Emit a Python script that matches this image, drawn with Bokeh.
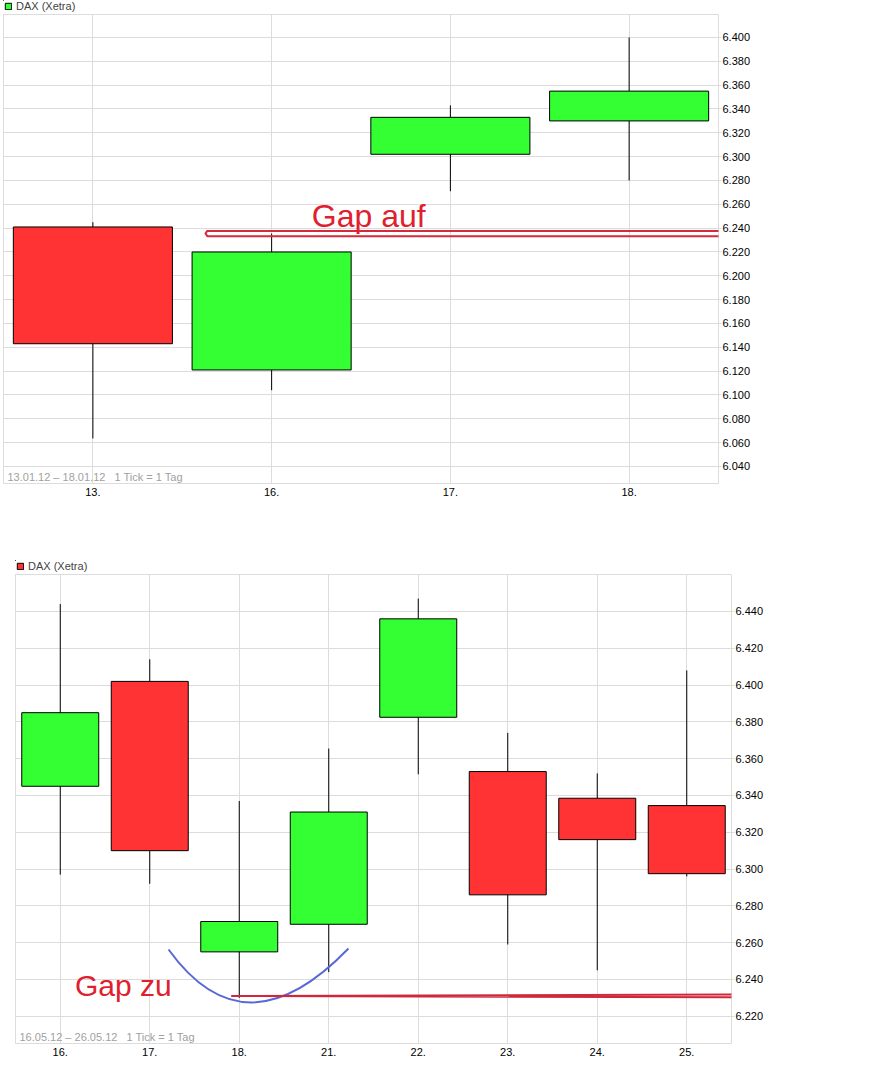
from bokeh.plotting import figure
from bokeh.models import (ColumnDataSource, FixedTicker, CustomJSTickFormatter, Legend,
                          LegendItem, Label, PolyAnnotation, Range1d)
from bokeh.embed import file_html
from bokeh.resources import INLINE

# ---------------- data ----------------
top_days = ["13.", "16.", "17.", "18."]
top_open = [6241, 6121, 6302, 6330]
top_high = [6245, 6235.5, 6343, 6400]
top_low = [6063.5, 6104, 6271, 6280]
top_close = [6143, 6220, 6333, 6355]
top_yticks = list(range(6040, 6401, 20))
top_note = "13.01.12 \u2013 18.01.12 \u00a0 1 Tick = 1 Tag"

bot_days = ["16.", "17.", "18.", "21.", "22.", "23.", "24.", "25."]
bot_open = [6345, 6402, 6255, 6270, 6382.5, 6353, 6338.5, 6334.5]
bot_high = [6444, 6414, 6337, 6365.5, 6447, 6374, 6352, 6408]
bot_low = [6297, 6292, 6230, 6244, 6351.5, 6259, 6245, 6296]
bot_close = [6385, 6310, 6271.5, 6331, 6436, 6286, 6316, 6297.5]
bot_yticks = list(range(6220, 6441, 20))
bot_note = "16.05.12 \u2013 26.05.12 \u00a0 1 Tick = 1 Tag"

series_name = "DAX (Xetra)"

GREEN = "#33ff33"
RED = "#ff3333"
GRID = "#dcdcdc"
FONT = "Liberation Sans"
MARK = "#e0202e"


def split_sources(o, c):
    xs = list(range(len(o)))
    up = [ci >= oi for oi, ci in zip(o, c)]
    inc = ColumnDataSource(dict(
        x=[x for x, u in zip(xs, up) if u],
        top=[max(a, b) for a, b, u in zip(o, c, up) if u],
        bottom=[min(a, b) for a, b, u in zip(o, c, up) if u]))
    dec = ColumnDataSource(dict(
        x=[x for x, u in zip(xs, up) if not u],
        top=[max(a, b) for a, b, u in zip(o, c, up) if not u],
        bottom=[min(a, b) for a, b, u in zip(o, c, up) if not u]))
    return inc, dec


def legend_strip(src, color, width, b_left):
    """Thin strip above a chart holding the series legend (series bodies lie off-view)."""
    q = figure(width=width, height=13, output_backend="svg", toolbar_location=None,
               x_range=Range1d(100, 101), y_range=Range1d(0, 1),
               x_axis_type=None, y_axis_type=None,
               min_border_left=b_left, min_border_right=0, min_border_top=0,
               min_border_bottom=0)
    q.outline_line_color = None
    q.xgrid.visible = False
    q.ygrid.visible = False
    r = q.vbar(x="x", width=0.5, top="top", bottom="bottom", fill_color=color,
               line_color="black", line_width=1, source=src)
    q.add_layout(Legend(items=[LegendItem(label=series_name, renderers=[r], index=0)],
                        orientation="horizontal", location=(1, 1),
                        padding=0, margin=0, spacing=0, glyph_width=8, glyph_height=8,
                        label_standoff=4, label_height=11, label_text_font=FONT,
                        label_text_font_size="11px", border_line_color=None,
                        background_fill_alpha=0))
    return q


def make_chart(days, h, l, inc, dec, yticks, y0, y1, note, width, height,
               b_left, b_right, b_top, b_bottom, body_w):
    n = len(days)
    xs = list(range(n))
    allsrc = ColumnDataSource(dict(x=xs, high=h, low=l))

    p = figure(width=width, height=height, output_backend="svg", toolbar_location=None,
               x_range=Range1d(-0.5, n - 0.5), y_range=Range1d(y0, y1),
               y_axis_location="right", min_border_left=b_left, min_border_right=b_right,
               min_border_top=b_top, min_border_bottom=b_bottom)
    p.outline_line_color = GRID
    p.background_fill_color = "white"
    p.border_fill_color = "white"

    p.segment(x0="x", y0="high", x1="x", y1="low", line_color="black", line_width=1,
              source=allsrc)
    p.vbar(x="x", width=body_w, top="top", bottom="bottom", fill_color=GREEN,
           line_color="black", line_width=1, source=inc)
    p.vbar(x="x", width=body_w, top="top", bottom="bottom", fill_color=RED,
           line_color="black", line_width=1, source=dec)

    xt = FixedTicker(ticks=xs)
    p.xaxis.ticker = xt
    p.xgrid.ticker = xt
    p.xaxis.formatter = CustomJSTickFormatter(args=dict(days=days),
                                              code="return days[Math.round(tick)] || '';")
    yt = FixedTicker(ticks=yticks)
    p.yaxis.ticker = yt
    p.ygrid.ticker = yt
    p.yaxis.formatter = CustomJSTickFormatter(code="return (tick/1000).toFixed(3);")
    for g in (p.xgrid, p.ygrid):
        g.grid_line_color = GRID
    for ax in (p.xaxis, p.yaxis):
        ax.axis_line_color = None
        ax.minor_tick_line_color = None
        ax.major_label_text_font = FONT
        ax.major_label_text_font_size = "11px"
        ax.major_label_text_color = "#000000"
    p.xaxis.major_tick_line_color = None
    p.xaxis.major_tick_in = 0
    p.xaxis.major_tick_out = 0
    p.xaxis.major_label_standoff = 4
    p.yaxis.major_tick_line_color = GRID
    p.yaxis.major_tick_in = 0
    p.yaxis.major_tick_out = 3
    p.yaxis.major_label_standoff = 1

    p.add_layout(Label(x=4, y=1, x_units="screen", y_units="screen", text=note,
                       text_font=FONT, text_font_size="11px", text_color="#a0a0a0",
                       text_baseline="bottom", text_align="left"))
    return p


top_inc, top_dec = split_sources(top_open, top_close)
bot_inc, bot_dec = split_sources(bot_open, bot_close)

l1 = legend_strip(top_inc, GREEN, 879, 3)
p1 = make_chart(top_days, top_high, top_low, top_inc, top_dec, top_yticks,
                6025.7, 6419.3, top_note, 879, 547, 3, 161, 1, 77, 0.89)
l2 = legend_strip(bot_dec, RED, 879, 15)
p2 = make_chart(bot_days, bot_high, bot_low, bot_inc, bot_dec, bot_yticks,
                6205.2, 6460.1, bot_note, 879, 507, 15, 148, 1, 37, 0.86)

# ---- hand-drawn annotations ----
gap_up = top_high[1]           # "Gap auf" level (high of day 16.)
p1.add_layout(PolyAnnotation(xs=[0.64, 0.63, 0.64, 4.6, 4.6],
                             ys=[gap_up + 2.2, gap_up, gap_up - 2.2, gap_up - 2.2, gap_up + 2.2],
                             fill_alpha=0, line_color="#d42a3a", line_alpha=1.0,
                             line_width=2, line_join="round"))
p1.add_layout(Label(x=1.225, y=gap_up + 15, text="Gap auf", text_font=FONT,
                    text_font_size="32px", text_color=MARK, text_baseline="alphabetic"))

gap_dn = bot_low[2]            # "Gap zu" level (low of day 18.)
p2.add_layout(PolyAnnotation(xs=[8.6, 1.91, 8.6],
                             ys=[gap_dn + 2.0, gap_dn + 1.0, gap_dn + 0.2],
                             fill_alpha=0, line_color="#d0283a", line_alpha=1.0,
                             line_width=2))
p2.quadratic(x0=[1.21], y0=[6256.3], x1=[3.22], y1=[6256.8], cx=[2.065], cy=[6198.5],
             line_color="#5a68d6", line_width=2)
p2.add_layout(Label(x=0.165, y=gap_dn + 6.7, text="Gap zu", text_font=FONT,
                    text_font_size="30px", text_color=MARK, text_baseline="alphabetic"))

open("out.html", "w").write(file_html([l1, p1, l2, p2], INLINE))
